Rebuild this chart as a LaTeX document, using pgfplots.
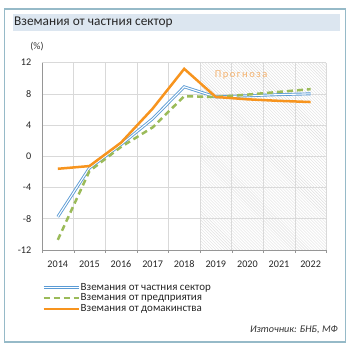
\documentclass[border=0pt]{standalone}
\usepackage{fontspec}
\setmainfont{Carlito}
\usepackage{pgfplots}
\pgfplotsset{compat=1.18}
\usetikzlibrary{patterns}
\definecolor{framec}{RGB}{150,186,200}
\definecolor{titlec}{RGB}{220,230,240}
\definecolor{gridc}{RGB}{217,217,217}
\definecolor{axc}{RGB}{150,150,150}
\definecolor{bluec}{RGB}{91,155,213}
\definecolor{greenc}{RGB}{155,187,89}
\definecolor{orangec}{RGB}{247,148,30}
\definecolor{progc}{RGB}{244,178,110}
\begin{document}
\begin{tikzpicture}[x=1bp,y=1bp]
\path[use as bounding box] (0,0) rectangle (352,351);
\draw[framec, line width=1.2bp] (4.5,342) rectangle (345.5,9);
\fill[titlec] (13,337) rectangle (340,320);
\node[anchor=west, inner sep=0pt, font=\fontsize{13.4}{15}\selectfont, text=black!85] at (14,328.5) {Вземания от частния сектор};
\node[inner sep=0pt, font=\fontsize{10}{11}\selectfont, text=black!80] at (37,304) {(\%)};
\begin{axis}[
  at={(42bp,101bp)}, anchor=south west,
  scale only axis, width=284.4bp, height=187.4bp,
  xmin=-0.5, xmax=8.5, ymin=-12, ymax=12,
  xtick={0,...,8},
  xticklabels={2014,2015,2016,2017,2018,2019,2020,2021,2022},
  minor xtick={-0.5,0.5,...,8.5},
  ytick={-12,-8,...,12},
  major x tick style={draw=none},
  minor tick length=3bp,
  tick align=outside,
  minor x grid style={gridc, line width=0.6bp},
  minor grid style={gridc, line width=0.6bp},
  ymajorgrids, xminorgrids,
  major grid style={gridc, line width=0.6bp},
  y tick style={draw=none},
  minor x tick style={axc},
  axis x line*=bottom, axis y line*=left,
  axis line style={axc, line width=0.8bp, -},
  ticklabel style={font=\fontsize{10.2}{11}\selectfont, text=black!85},
  /pgf/number format/assume math mode=true,
  yticklabel style={xshift=-3bp},
  xticklabel style={yshift=-3bp},
  legend style={at={(axis description cs:0,-0.172)}, anchor=north west, draw=none, fill=none,
    font=\fontsize{11}{11}\selectfont, row sep=1.2bp, inner sep=0pt,
    nodes={inner sep=0.6bp, text=black!85}},
  legend cell align=left,
  legend image code/.code={\draw[#1] (0bp,0bp) -- (35bp,0bp);},
  clip=false,
]
\fill[pattern=north west lines, pattern color=black!13] (axis cs:4.5,-12) rectangle (axis cs:8.5,12);
\addplot[bluec, line width=0.9bp, double=white, double distance=1.1bp] coordinates {
(0,-7.75) (1,-1.5) (2,1.5) (3,4.8) (4,8.9) (5,7.6) (6,7.75) (7,7.9) (8,8.0)};
\addlegendentry{Вземания от частния сектор}
\addplot[greenc, line width=2.5bp, dash pattern=on 6bp off 4bp] coordinates {
(0,-10.7) (1,-1.9) (2,1.2) (3,3.7) (4,7.7) (5,7.6) (6,7.9) (7,8.25) (8,8.6)};
\addlegendentry{Вземания от предприятия}
\addplot[orangec, line width=2.5bp] coordinates {
(0,-1.6) (1,-1.25) (2,1.75) (3,6.1) (4,11.2) (5,7.6) (6,7.3) (7,7.1) (8,6.95)};
\addlegendentry{Вземания от домакинства}
\node[font=\fontsize{10.5}{11}\selectfont\addfontfeature{LetterSpace=15}, text=progc] at (axis cs:5.8,10.35) {Прогноза};
\end{axis}
\node[anchor=east, inner sep=0pt, font=\fontsize{10.2}{11}\selectfont\itshape, text=black!80] at (338,21) {Източник: БНБ, МФ};
\end{tikzpicture}
\end{document}
